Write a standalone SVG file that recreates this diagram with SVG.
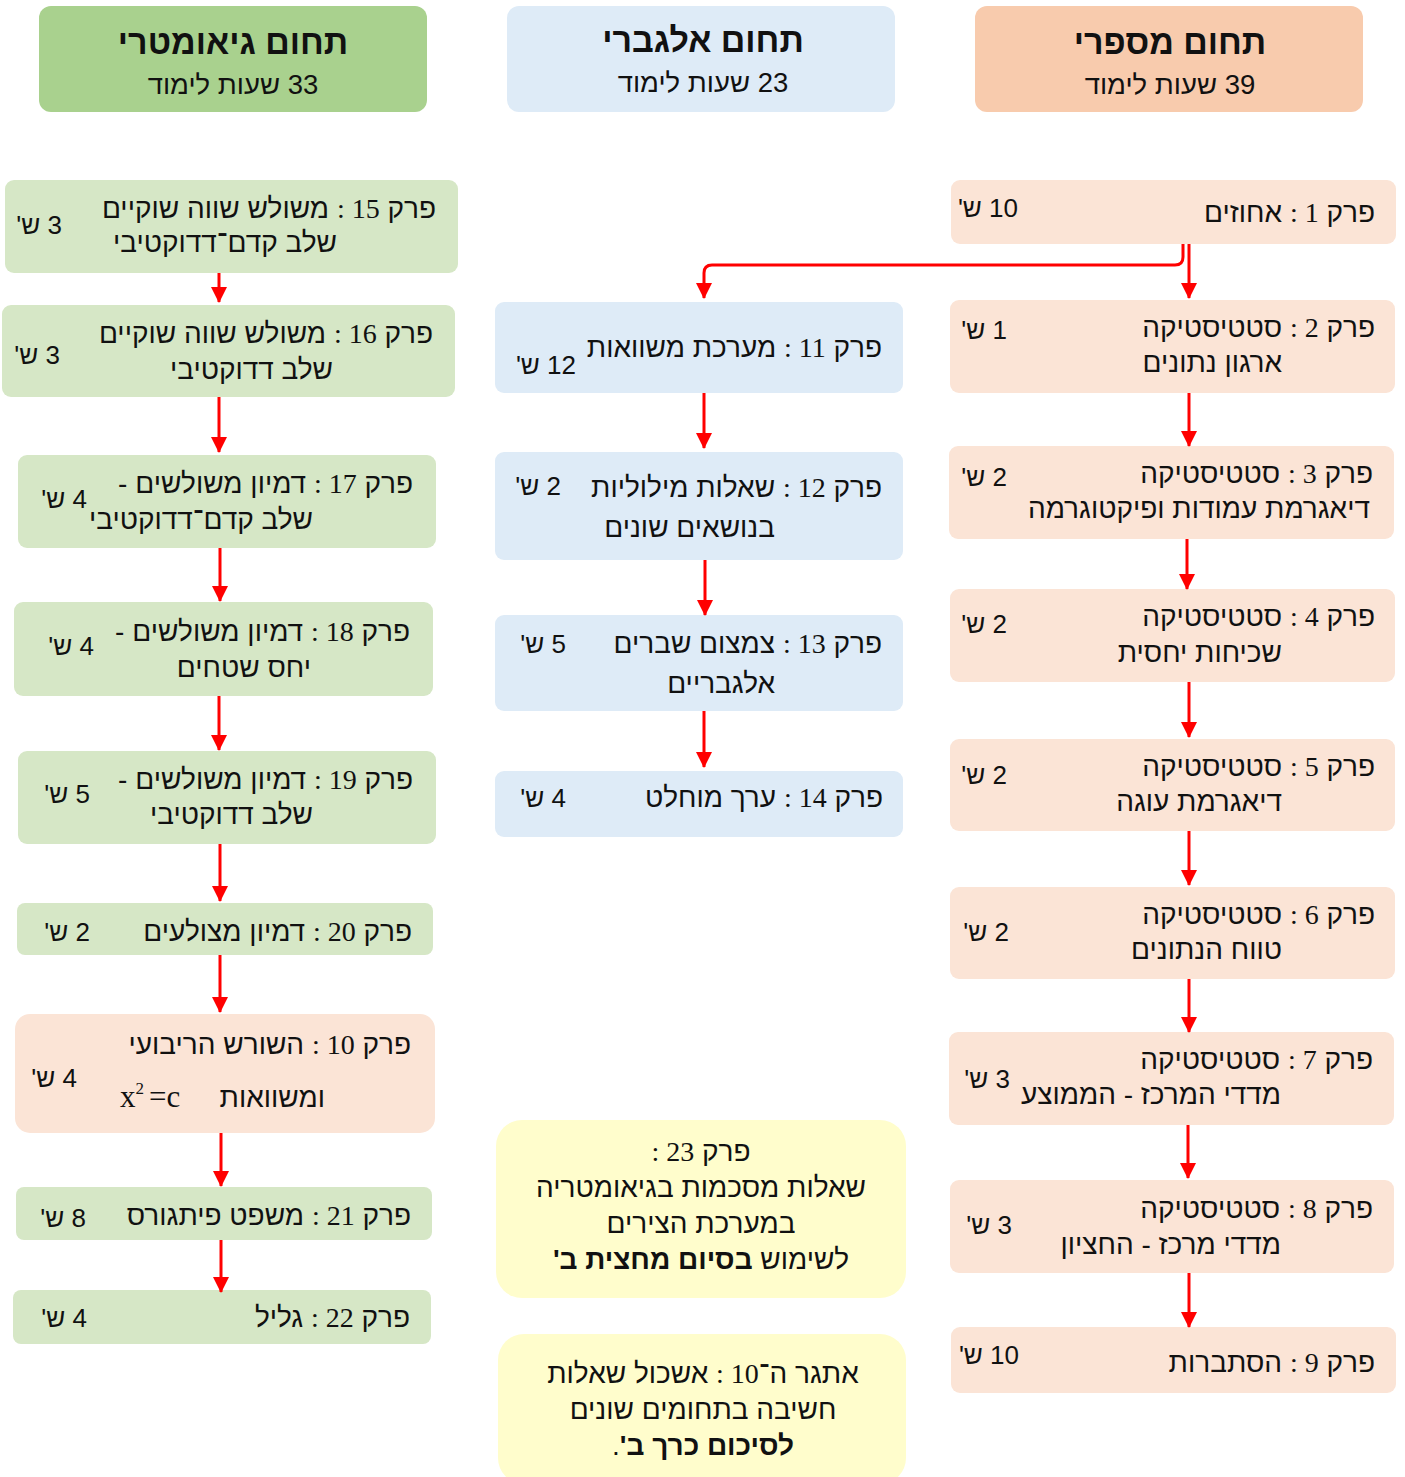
<svg xmlns="http://www.w3.org/2000/svg" width="1405" height="1477" viewBox="0 0 1405 1477">
<style>
text{font-family:"Liberation Sans","DejaVu Sans",sans-serif;fill:#111}
.r{direction:rtl;text-anchor:start}
.c{direction:rtl;text-anchor:middle}
.t{font-size:28px}
.h{font-size:26px}
.ttl{font-size:34px;font-weight:bold}
.sub{font-size:27.5px}
.n{font-family:"Liberation Serif","Times New Roman",serif}
.b{font-weight:bold}
.hg{fill:#a9d18e}.hb{fill:#deebf7}.ho{fill:#f8cbad}
.g{fill:#d6e7c6}.bl{fill:#deebf7}.o{fill:#fbe4d6}.y{fill:#fffdcc}
.a{fill:none;stroke:#ff0000;stroke-width:3}
.m{font-family:"Liberation Serif","Times New Roman",serif;font-size:31px}
</style>
<defs>
<marker id="ar" markerUnits="userSpaceOnUse" markerWidth="16" markerHeight="16" viewBox="0 0 16 16" refX="15" refY="8" orient="auto">
<path d="M0,0 L16,8 L0,16 z" fill="#ff0000"/>
</marker>
</defs>

<g id="hdr-geo"><rect class="hg" x="39" y="6" width="388" height="106" rx="12"/>
<text class="c ttl" x="233" y="54">תחום גיאומטרי</text>
<text class="c sub" x="233" y="94">33 שעות לימוד</text></g>
<g id="hdr-alg"><rect class="hb" x="507" y="6" width="388" height="106" rx="12"/>
<text class="c ttl" x="703" y="52">תחום אלגברי</text>
<text class="c sub" x="703" y="92">23 שעות לימוד</text></g>
<g id="hdr-num"><rect class="ho" x="975" y="6" width="388" height="106" rx="12"/>
<text class="c ttl" x="1170" y="54">תחום מספרי</text>
<text class="c sub" x="1170" y="94">39 שעות לימוד</text></g>

<!-- right column -->
<g id="ch1"><rect class="o" x="951" y="180" width="445" height="64" rx="9"/>
<text class="r t" x="1375" y="222">פרק <tspan class="n">1 :</tspan> אחוזים</text>
<text class="r h" x="1018" y="217">10 ש'</text></g>
<g id="ch2"><rect class="o" x="950" y="300" width="445" height="93" rx="9"/>
<text class="r t" x="1375" y="337">פרק <tspan class="n">2 :</tspan> סטטיסטיקה</text>
<text class="r t" x="1282" y="372">ארגון נתונים</text>
<text class="r h" x="1007" y="339">1 ש'</text></g>
<g id="ch3"><rect class="o" x="949" y="446" width="445" height="93" rx="9"/>
<text class="r t" x="1373" y="483">פרק <tspan class="n">3 :</tspan> סטטיסטיקה</text>
<text class="r t" x="1370" y="518">דיאגרמת עמודות ופיקטוגרמה</text>
<text class="r h" x="1007" y="486">2 ש'</text></g>
<g id="ch4"><rect class="o" x="950" y="589" width="445" height="93" rx="9"/>
<text class="r t" x="1375" y="626">פרק <tspan class="n">4 :</tspan> סטטיסטיקה</text>
<text class="r t" x="1282" y="662">שכיחות יחסית</text>
<text class="r h" x="1007" y="633">2 ש'</text></g>
<g id="ch5"><rect class="o" x="950" y="739" width="445" height="92" rx="9"/>
<text class="r t" x="1375" y="776">פרק <tspan class="n">5 :</tspan> סטטיסטיקה</text>
<text class="r t" x="1282" y="811">דיאגרמת עוגה</text>
<text class="r h" x="1007" y="784">2 ש'</text></g>
<g id="ch6"><rect class="o" x="950" y="887" width="445" height="92" rx="9"/>
<text class="r t" x="1375" y="924">פרק <tspan class="n">6 :</tspan> סטטיסטיקה</text>
<text class="r t" x="1282" y="959">טווח הנתונים</text>
<text class="r h" x="1009" y="941">2 ש'</text></g>
<g id="ch7"><rect class="o" x="949" y="1032" width="445" height="93" rx="9"/>
<text class="r t" x="1373" y="1069">פרק <tspan class="n">7 :</tspan> סטטיסטיקה</text>
<text class="r t" x="1281" y="1104">מדדי המרכז - הממוצע</text>
<text class="r h" x="1010" y="1088">3 ש'</text></g>
<g id="ch8"><rect class="o" x="950" y="1180" width="444" height="93" rx="9"/>
<text class="r t" x="1373" y="1218">פרק <tspan class="n">8 :</tspan> סטטיסטיקה</text>
<text class="r t" x="1281" y="1254">מדדי מרכז - החציון</text>
<text class="r h" x="1012" y="1234">3 ש'</text></g>
<g id="ch9"><rect class="o" x="951" y="1327" width="445" height="66" rx="9"/>
<text class="r t" x="1375" y="1372">פרק <tspan class="n">9 :</tspan> הסתברות</text>
<text class="r h" x="1019" y="1364">10 ש'</text></g>

<!-- middle column -->
<g id="ch11"><rect class="bl" x="495" y="302" width="408" height="91" rx="9"/>
<text class="r t" x="882" y="357">פרק <tspan class="n">11 :</tspan> מערכת משוואות</text>
<text class="r h" x="576" y="374">12 ש'</text></g>
<g id="ch12"><rect class="bl" x="495" y="452" width="408" height="108" rx="9"/>
<text class="r t" x="882" y="497">פרק <tspan class="n">12 :</tspan> שאלות מילוליות</text>
<text class="r t" x="775" y="537">בנושאים שונים</text>
<text class="r h" x="561" y="495">2 ש'</text></g>
<g id="ch13"><rect class="bl" x="495" y="615" width="408" height="96" rx="9"/>
<text class="r t" x="882" y="653">פרק <tspan class="n">13 :</tspan> צמצום שברים</text>
<text class="r t" x="775" y="693">אלגבריים</text>
<text class="r h" x="566" y="653">5 ש'</text></g>
<g id="ch14"><rect class="bl" x="495" y="771" width="408" height="66" rx="9"/>
<text class="r t" x="883" y="807">פרק <tspan class="n">14 :</tspan> ערך מוחלט</text>
<text class="r h" x="566" y="807">4 ש'</text></g>

<g id="ch23"><rect class="y" x="496" y="1120" width="410" height="178" rx="26"/>
<text class="c t" x="701" y="1161">פרק <tspan class="n">23 :</tspan></text>
<text class="c t" x="701" y="1197">שאלות מסכמות בגיאומטריה</text>
<text class="c t" x="701" y="1233">במערכת הצירים</text>
<text class="c t" x="701" y="1269">לשימוש <tspan class="b">בסיום מחצית ב'</tspan></text></g>
<g id="challenge"><rect class="y" x="498" y="1334" width="408" height="150" rx="26"/>
<text class="c t" x="703" y="1383">אתגר ה־<tspan class="n">10 :</tspan> אשכול שאלות</text>
<text class="c t" x="703" y="1419">חשיבה בתחומים שונים</text>
<text class="c t" x="703" y="1455"><tspan class="b">לסיכום כרך ב'</tspan>.</text></g>

<!-- left column -->
<g id="ch15"><rect class="g" x="5" y="180" width="453" height="93" rx="9"/>
<text class="r t" x="436" y="218">פרק <tspan class="n">15 :</tspan> משולש שווה שוקיים</text>
<text class="r t" x="337" y="252">שלב קדם־דדוקטיבי</text>
<text class="r h" x="62" y="234">3 ש'</text></g>
<g id="ch16"><rect class="g" x="2" y="305" width="453" height="92" rx="9"/>
<text class="r t" x="433" y="343">פרק <tspan class="n">16 :</tspan> משולש שווה שוקיים</text>
<text class="r t" x="333" y="379">שלב דדוקטיבי</text>
<text class="r h" x="60" y="364">3 ש'</text></g>
<g id="ch17"><rect class="g" x="18" y="455" width="418" height="93" rx="9"/>
<text class="r t" x="413" y="493">פרק <tspan class="n">17 :</tspan> דמיון משולשים -</text>
<text class="r t" x="313" y="529">שלב קדם־דדוקטיבי</text>
<text class="r h" x="87" y="508">4 ש'</text></g>
<g id="ch18"><rect class="g" x="14" y="602" width="419" height="94" rx="9"/>
<text class="r t" x="410" y="641">פרק <tspan class="n">18 :</tspan> דמיון משולשים -</text>
<text class="r t" x="311" y="677">יחס שטחים</text>
<text class="r h" x="94" y="655">4 ש'</text></g>
<g id="ch19"><rect class="g" x="18" y="751" width="418" height="93" rx="9"/>
<text class="r t" x="413" y="789">פרק <tspan class="n">19 :</tspan> דמיון משולשים -</text>
<text class="r t" x="313" y="824">שלב דדוקטיבי</text>
<text class="r h" x="90" y="803">5 ש'</text></g>
<g id="ch20"><rect class="g" x="17" y="903" width="416" height="52" rx="8"/>
<text class="r t" x="412" y="941">פרק <tspan class="n">20 :</tspan> דמיון מצולעים</text>
<text class="r h" x="90" y="941">2 ש'</text></g>
<g id="ch10"><rect class="o" x="15" y="1014" width="420" height="119" rx="15"/>
<text class="r t" x="411" y="1054">פרק <tspan class="n">10 :</tspan> השורש הריבועי</text>
<text class="r t" x="325" y="1107">ומשוואות</text>
<text class="m" x="120" y="1107">x<tspan dy="-13" style="font-size:17px">2</tspan><tspan dy="13" dx="5">=c</tspan></text>
<text class="r h" x="77" y="1087">4 ש'</text></g>
<g id="ch21"><rect class="g" x="16" y="1187" width="416" height="53" rx="8"/>
<text class="r t" x="411" y="1225">פרק <tspan class="n">21 :</tspan> משפט פיתגורס</text>
<text class="r h" x="86" y="1227">8 ש'</text></g>
<g id="ch22"><rect class="g" x="13" y="1290" width="418" height="54" rx="8"/>
<text class="r t" x="410" y="1327">פרק <tspan class="n">22 :</tspan> גליל</text>
<text class="r h" x="87" y="1327">4 ש'</text></g>

<g id="connectors">
<path class="a" d="M1189,244 V298" marker-end="url(#ar)"/>
<path class="a" d="M1183,244 V257 Q1183,265 1175,265 H712 Q704,265 704,273 V298" marker-end="url(#ar)"/>
<path class="a" d="M1189,393 V446" marker-end="url(#ar)"/>
<path class="a" d="M1187,539 V589" marker-end="url(#ar)"/>
<path class="a" d="M1189,682 V737" marker-end="url(#ar)"/>
<path class="a" d="M1189,831 V885" marker-end="url(#ar)"/>
<path class="a" d="M1189,979 V1032" marker-end="url(#ar)"/>
<path class="a" d="M1188,1125 V1178" marker-end="url(#ar)"/>
<path class="a" d="M1189,1273 V1327" marker-end="url(#ar)"/>
<path class="a" d="M704,393 V448" marker-end="url(#ar)"/>
<path class="a" d="M705,560 V615" marker-end="url(#ar)"/>
<path class="a" d="M704,711 V767" marker-end="url(#ar)"/>
<path class="a" d="M219,273 V302" marker-end="url(#ar)"/>
<path class="a" d="M219,397 V452" marker-end="url(#ar)"/>
<path class="a" d="M220,548 V601" marker-end="url(#ar)"/>
<path class="a" d="M219,696 V750" marker-end="url(#ar)"/>
<path class="a" d="M220,844 V901" marker-end="url(#ar)"/>
<path class="a" d="M220,955 V1012" marker-end="url(#ar)"/>
<path class="a" d="M221,1133 V1186" marker-end="url(#ar)"/>
<path class="a" d="M221,1240 V1292" marker-end="url(#ar)"/>
</g>
</svg>
